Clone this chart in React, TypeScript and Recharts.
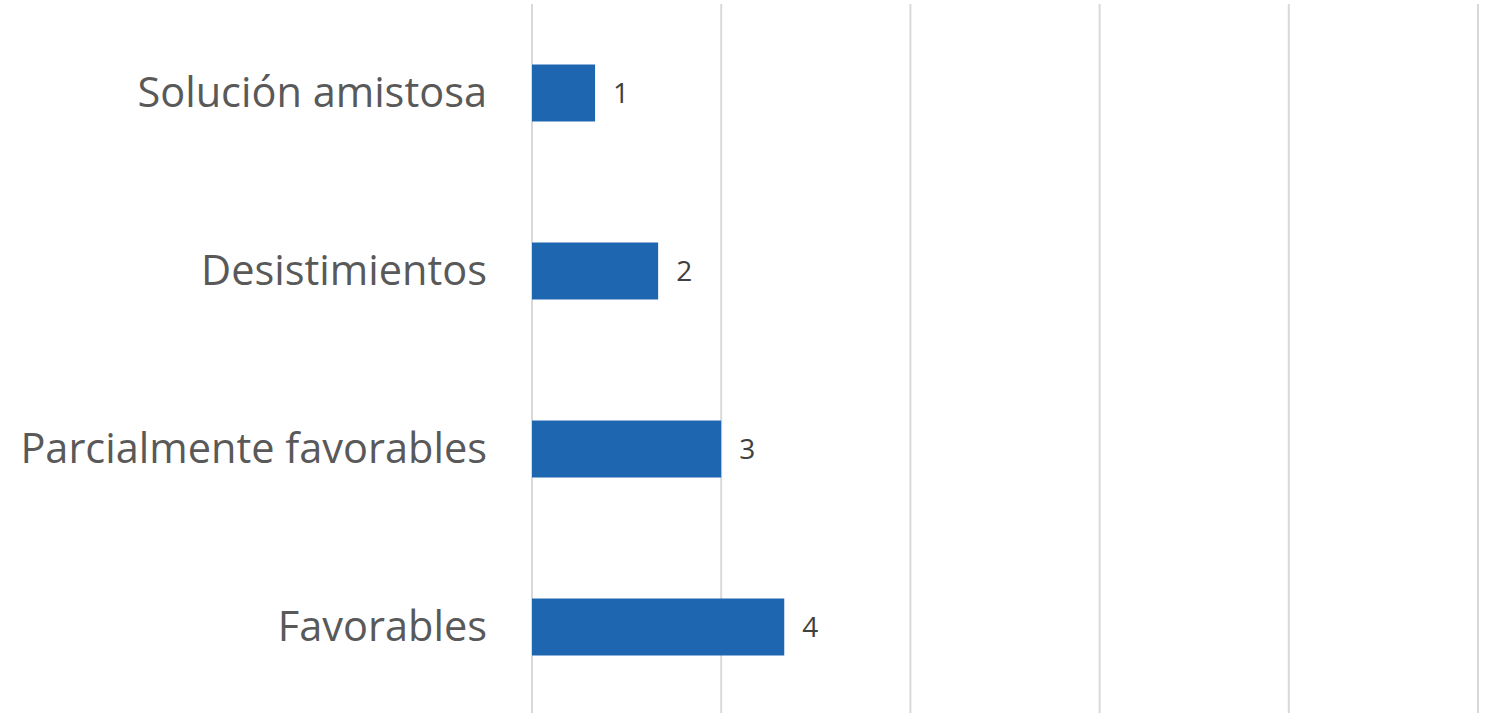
import { BarChart, Bar, XAxis, YAxis, CartesianGrid, LabelList } from "recharts";

const CATEGORIES = ["Solución amistosa", "Desistimientos", "Parcialmente favorables", "Favorables"];
const VALUES = [1, 2, 3, 4];
const X_TICKS = [0, 3, 6, 9, 12, 15];

const data = CATEGORIES.map((name, i) => ({ name, value: VALUES[i] }));

function CategoryTick({ x, y, payload }: { x: number; y: number; payload: { value: string } }) {
  return (
    <text
      x={x - 37}
      y={y}
      dy={14}
      textAnchor="end"
      fontSize={41.5}
      fill="#595959"
      fontFamily="'Open Sans', sans-serif"
    >
      {payload.value}
    </text>
  );
}

// hidden x ticks; the axis still feeds the grid
const NoTick = () => <g />;

export default function App() {
  return (
    <div style={{ position: "absolute", left: 0, top: 0, background: "#fff" }}>
      <BarChart
        width={1486}
        height={720}
        data={data}
        layout="vertical"
        margin={{ top: 4, right: 8, bottom: 4, left: 0 }}
        barCategoryGap="34%"
      >
        <CartesianGrid horizontal={false} stroke="#d9d9d9" strokeWidth={2} />
        <XAxis
          type="number"
          domain={[0, 15]}
          ticks={X_TICKS}
          tick={NoTick}
          tickLine={false}
          axisLine={false}
          height={0}
        />
        <YAxis
          type="category"
          dataKey="name"
          width={532}
          tickLine={false}
          axisLine={false}
          tick={CategoryTick}
        />
        <Bar dataKey="value" fill="#1F66B1" isAnimationActive={false}>
          <LabelList
            dataKey="value"
            position="right"
            offset={18}
            fontSize={28}
            fill="#404040"
            fontFamily="'Open Sans', sans-serif"
          />
        </Bar>
      </BarChart>
    </div>
  );
}
